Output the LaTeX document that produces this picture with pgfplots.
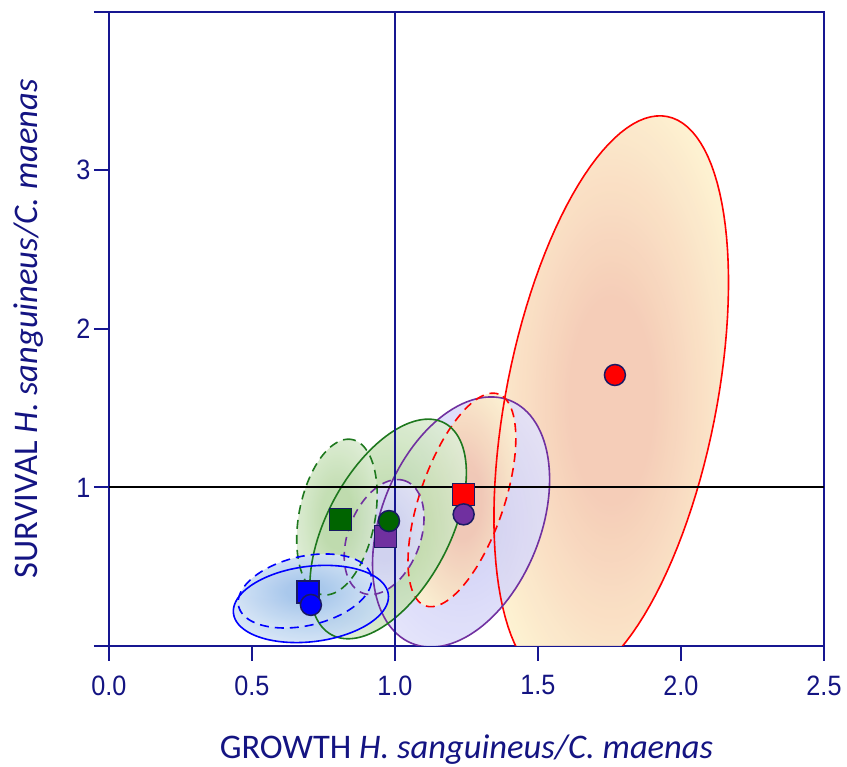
\documentclass[border=0pt]{standalone}
\usepackage{fontspec}
\setmainfont{Carlito}
\newfontfamily\tickfont[FakeStretch=0.9]{Liberation Sans}
\usepackage{pgfplots}
\pgfplotsset{compat=1.18}

\definecolor{navyA}{RGB}{22,22,145}
\definecolor{navyT}{RGB}{20,20,130}
\definecolor{mkedge}{RGB}{25,25,100}
\definecolor{cRed}{RGB}{255,0,0}
\definecolor{cPur}{RGB}{112,48,160}
\definecolor{cGrn}{RGB}{0,100,0}
\definecolor{cGrnL}{RGB}{30,120,30}
\definecolor{cBlu}{RGB}{0,0,255}

\definecolor{rIn}{RGB}{244,200,176}
\definecolor{rOut}{RGB}{254,242,206}
\definecolor{pIn}{RGB}{210,210,246}
\definecolor{pOut}{RGB}{232,232,252}
\definecolor{gIn}{RGB}{190,219,172}
\definecolor{gOut}{RGB}{236,245,232}
\definecolor{bIn}{RGB}{168,200,236}
\definecolor{bOut}{RGB}{232,240,250}

\pgfdeclareradialshading{redsh}{\pgfpointorigin}{color(0bp)=(rIn); color(9bp)=(rIn); color(30bp)=(rOut); color(50bp)=(rOut)}
\pgfdeclareradialshading{pursh}{\pgfpointorigin}{color(0bp)=(pIn); color(10bp)=(pIn); color(36bp)=(pOut); color(50bp)=(pOut)}
\pgfdeclareradialshading{grnsh}{\pgfpointorigin}{color(0bp)=(gIn); color(10bp)=(gIn); color(38bp)=(gOut); color(50bp)=(gOut)}
\pgfdeclareradialshading{blush}{\pgfpointorigin}{color(0bp)=(bIn); color(7bp)=(bIn); color(36bp)=(bOut); color(50bp)=(bOut)}

% ellipse: centre (cx,cy) in data units, semi-axes a,b in pt, tilt th in degrees
\newcommand{\ellfill}[6]{%
  \addplot[draw=none, shade, shading=#6, fill opacity=0.9, domain=0:360, samples=121]
  ({#1+(#3*cos(x)*cos(#5)-#4*sin(x)*sin(#5))/286},
   {#2+(#3*cos(x)*sin(#5)+#4*sin(x)*cos(#5))/158.575});}
\newcommand{\elldraw}[6]{%
  \addplot[#6, line width=1.6pt, domain=0:360, samples=121]
  ({#1+(#3*cos(x)*cos(#5)-#4*sin(x)*sin(#5))/286},
   {#2+(#3*cos(x)*sin(#5)+#4*sin(x)*cos(#5))/158.575});}

\begin{document}
\begin{tikzpicture}
\useasboundingbox (-109pt,-121pt) rectangle (738pt,646pt);
\begin{axis}[
  at={(0,0)}, anchor=south west,
  scale only axis, width=715pt, height=634.3pt,
  xmin=0, xmax=2.5, ymin=0, ymax=4,
  axis line style={draw=navyA, line width=2pt},
  every tick/.style={navyA, line width=2pt},
  tick align=outside, major tick length=15pt,
  xtick pos=bottom, ytick pos=left,
  xtick={0,0.5,1,1.5,2,2.5},
  xticklabels={0.0,0.5,1.0,1.5,2.0,2.5},
  ytick={0,1,2,3,4},
  yticklabels={,1,2,3,},
  tick label style={font=\tickfont\fontsize{28}{30}\selectfont, text=navyT},
  xticklabel style={yshift=-11pt},
  xlabel={GROWTH \textit{H. sanguineus/C. maenas}},
  ylabel={SURVIVAL \textit{H. sanguineus/C. maenas}},
  label style={font=\fontsize{34.5}{38}\selectfont, text=navyT},
  xlabel style={at={(axis description cs:0.5,-0.1766)}, anchor=base},
  ylabel style={at={(axis description cs:-0.1007,0.5)}, anchor=base},
]
% ---- ellipse fills
\ellfill{1.756}{1.551}{289}{105}{78.8}{redsh}
\ellfill{1.231}{0.782}{131}{79.5}{68}{pursh}
\ellfill{1.234}{0.921}{112}{42}{71}{redsh}
\ellfill{0.976}{0.738}{120}{61.5}{62}{grnsh}
\ellfill{0.962}{0.687}{60}{36}{69}{pursh}
\ellfill{0.797}{0.813}{79}{38}{79}{grnsh}
\ellfill{0.706}{0.265}{78}{37.7}{7}{blush}
\ellfill{0.685}{0.347}{68}{34.6}{13}{blush}
% ---- ellipse outlines
\elldraw{1.756}{1.551}{289}{105}{78.8}{cRed}
\elldraw{1.231}{0.782}{131}{79.5}{68}{cPur}
\elldraw{1.234}{0.921}{112}{42}{71}{cRed, dash pattern=on 9pt off 6pt}
\elldraw{0.976}{0.738}{120}{61.5}{62}{cGrnL}
\elldraw{0.962}{0.687}{60}{36}{69}{cPur, dash pattern=on 9pt off 6pt}
\elldraw{0.797}{0.813}{79}{38}{79}{cGrnL, dash pattern=on 9pt off 6pt}
\elldraw{0.706}{0.265}{78}{37.7}{7}{cBlu}
\elldraw{0.685}{0.347}{68}{34.6}{13}{cBlu, dash pattern=on 9pt off 6pt}
% ---- reference lines
\addplot[navyA, line width=1.5pt] coordinates {(1,0) (1,4)};
\addplot[black, line width=2pt] coordinates {(0,1) (2.5,1)};
% ---- squares
\addplot[only marks, mark=square*, mark size=11pt, mark options={fill=cRed, draw=mkedge, line width=1.5pt}] coordinates {(1.240,0.956)};
\addplot[only marks, mark=square*, mark size=11pt, mark options={fill=cPur, draw=mkedge, line width=1.5pt}] coordinates {(0.967,0.689)};
\addplot[only marks, mark=square*, mark size=11pt, mark options={fill=cGrn, draw=mkedge, line width=1.5pt}] coordinates {(0.810,0.799)};
\addplot[only marks, mark=square*, mark size=11pt, mark options={fill=cBlu, draw=mkedge, line width=1.5pt}] coordinates {(0.695,0.342)};
% ---- circles
\addplot[only marks, mark=*, mark size=10.5pt, mark options={fill=cRed, draw=mkedge, line width=1.5pt}] coordinates {(1.769,1.709)};
\addplot[only marks, mark=*, mark size=10.5pt, mark options={fill=cPur, draw=mkedge, line width=1.5pt}] coordinates {(1.240,0.830)};
\addplot[only marks, mark=*, mark size=10.5pt, mark options={fill=cGrn, draw=mkedge, line width=1.5pt}] coordinates {(0.979,0.788)};
\addplot[only marks, mark=*, mark size=10.5pt, mark options={fill=cBlu, draw=mkedge, line width=1.5pt}] coordinates {(0.706,0.259)};
\end{axis}
\end{tikzpicture}
\end{document}
